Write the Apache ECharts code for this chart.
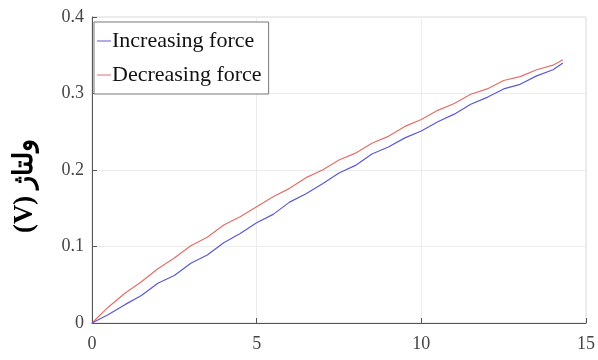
<!DOCTYPE html>
<html>
<head>
<meta charset="utf-8">
<script src="https://cdn.jsdelivr.net/npm/echarts@6/dist/echarts.min.js"></script>
<style>
  html, body { margin: 0; padding: 0; background: #fff; }
  #chart { width: 598px; height: 360px; }
</style>
</head>
<body>
<div id="chart"></div>
<script>
// Force values (x axis)
var force = [0, 0.5, 1, 1.5, 2, 2.5, 3, 3.5, 4, 4.5, 5, 5.5, 6, 6.5, 7, 7.5,
             8, 8.5, 9, 9.5, 10, 10.5, 11, 11.5, 12, 12.5, 13, 13.5, 14, 14.3];

// Measured voltage while the force increases
var increasing = [0, 0.011, 0.024, 0.036, 0.052, 0.062, 0.078, 0.089, 0.105, 0.117,
                  0.131, 0.142, 0.158, 0.169, 0.182, 0.196, 0.206, 0.221, 0.230, 0.242,
                  0.251, 0.263, 0.273, 0.286, 0.295, 0.306, 0.312, 0.323, 0.331, 0.340];

// Measured voltage while the force decreases
var decreasing = [0, 0.021, 0.039, 0.054, 0.071, 0.085, 0.101, 0.112, 0.128, 0.139,
                  0.152, 0.165, 0.176, 0.190, 0.200, 0.213, 0.222, 0.235, 0.244, 0.257,
                  0.266, 0.278, 0.287, 0.299, 0.306, 0.317, 0.322, 0.331, 0.337, 0.344];

var xTicks = [0, 5, 10, 15];
var yTicks = [0, 0.1, 0.2, 0.3, 0.4];

var seriesNames = ['Increasing force', 'Decreasing force'];
var yTitle = '(V) ولتاژ';

function pairs(xs, ys) {
  return xs.map(function (x, i) { return [x, ys[i]]; });
}

var serif = '"Liberation Serif", "Times New Roman", serif';
var chart = echarts.init(document.getElementById('chart'), null, { renderer: 'canvas' });

chart.setOption({
  animation: false,
  backgroundColor: '#ffffff',
  grid: { left: 92, right: 11, top: 17, bottom: 37, show: true, borderColor: '#d8d8d8', borderWidth: 1 },
  legend: {
    left: 94, top: 22,
    orient: 'vertical',
    padding: [8, 7, 8, 3],
    itemGap: 12,
    itemWidth: 14, itemHeight: 10,
    borderColor: '#777', borderWidth: 1,
    backgroundColor: '#fff',
    textStyle: { fontFamily: serif, fontSize: 22, color: '#111', padding: [0, 0, 0, -4] },
    data: seriesNames.map(function (n) { return { name: n, icon: 'path://M0,5L14,5L14,6L0,6Z' }; })
  },
  xAxis: {
    type: 'value', min: 0, max: 15, interval: 5,
    axisLine: { show: true, lineStyle: { color: '#555', width: 1 } },
    axisTick: { show: true, inside: true, length: 5, lineStyle: { color: '#555' } },
    axisLabel: {
      fontFamily: serif, fontSize: 18, color: '#444', margin: 12,
      formatter: function (v) { return xTicks.indexOf(v) >= 0 ? String(v) : ''; }
    },
    splitLine: { show: true, lineStyle: { color: '#ececec', width: 1 } }
  },
  yAxis: {
    type: 'value', min: 0, max: 0.4, interval: 0.1,
    axisLine: { show: true, lineStyle: { color: '#555', width: 1 } },
    axisTick: { show: true, inside: true, length: 5, lineStyle: { color: '#555' } },
    axisLabel: {
      fontFamily: serif, fontSize: 18, color: '#444', margin: 8,
      formatter: function (v) {
        var t = yTicks.find(function (k) { return Math.abs(k - v) < 1e-9; });
        return t === undefined ? '' : String(t);
      }
    },
    splitLine: { show: true, lineStyle: { color: '#ececec', width: 1 } }
  },
  graphic: [{
    type: 'text',
    x: 25, y: 186,
    rotation: Math.PI / 2,
    style: {
      text: yTitle,
      fontFamily: serif,
      fontWeight: 'bold',
      fontSize: 27,
      fill: '#000',
      align: 'center',
      verticalAlign: 'middle'
    }
  }],
  series: [
    {
      name: seriesNames[0], type: 'line', data: pairs(force, increasing),
      showSymbol: false, smooth: false,
      lineStyle: { color: '#5a5ad6', width: 1.2 }, itemStyle: { color: '#5a5ad6' }, z: 3
    },
    {
      name: seriesNames[1], type: 'line', data: pairs(force, decreasing),
      showSymbol: false, smooth: false,
      lineStyle: { color: '#e0706a', width: 1.2 }, itemStyle: { color: '#e0706a' }, z: 2
    }
  ]
});
</script>
</body>
</html>
